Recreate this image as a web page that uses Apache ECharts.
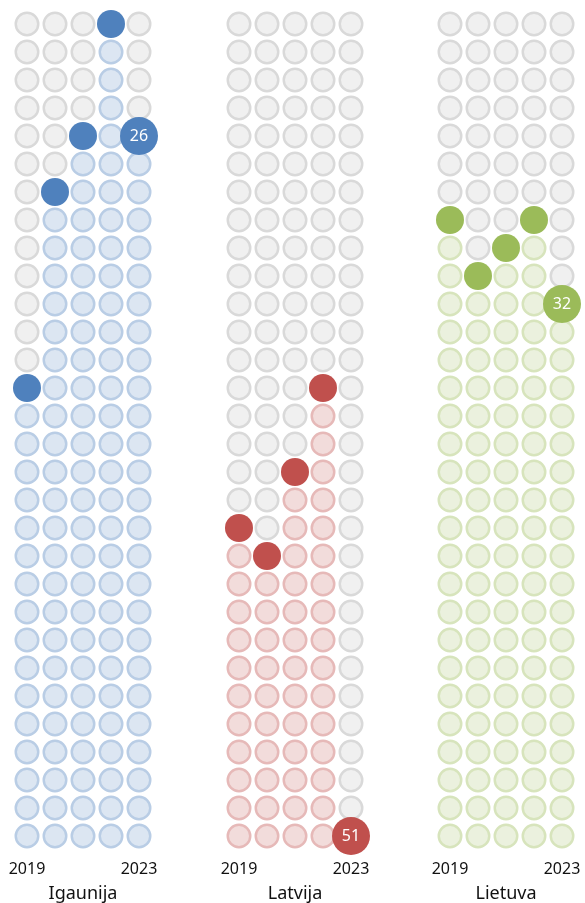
<!DOCTYPE html>
<html>
<head>
<meta charset="utf-8">
<script src="https://cdn.jsdelivr.net/npm/echarts@6/dist/echarts.min.js"></script>
<style>
  html, body { margin: 0; padding: 0; background: #ffffff; }
  #chart { width: 585px; height: 903px; }
</style>
</head>
<body>
<div id="chart"></div>
<script>
const years = ['2019', '2020', '2021', '2022', '2023'];
const countries = ['Igaunija', 'Latvija', 'Lietuva'];
const estoniaRanks = [35, 28, 26, 22, 26];
const latviaRanks = [40, 41, 38, 35, 51];
const lithuaniaRanks = [29, 31, 30, 29, 32];
const rankTop = 22;
const rankBottom = 51;

const allRanks = [estoniaRanks, latviaRanks, lithuaniaRanks];

// tumša krāsa, gaiša pildījuma krāsa, gaiša apmale
const palette = [
  { dark: '#4f81bd', light: '#dce6f2', lightBorder: '#b9cde5' },
  { dark: '#c0504d', light: '#f2dcdb', lightBorder: '#e6b9b8' },
  { dark: '#9bbb59', light: '#ebf1de', lightBorder: '#d7e4bc' },
];
const grey = { fill: '#f0f0f0', border: '#d9d9d9' };

const panelLeft = [27, 239, 450];
const gridTop = 24;
const gridBottom = 67;

const myChart = echarts.init(document.getElementById('chart'));

const grids = [];
const xAxes = [];
const yAxes = [];
const series = [];

countries.forEach((name, p) => {
  const ranks = allRanks[p];
  const col = palette[p];

  grids.push({
    left: panelLeft[p],
    width: 112,
    top: gridTop,
    bottom: gridBottom,
    containLabel: false,
    outerBoundsMode: 'none',
  });

  xAxes.push({
    gridIndex: p,
    type: 'category',
    data: years,
    boundaryGap: false,
    axisLine: { show: false },
    axisTick: { show: false },
    splitLine: { show: false },
    axisLabel: {
      interval: 3,
      margin: 25,
      color: '#111111',
      fontSize: 16,
      fontFamily: 'Noto Sans',
    },
    name: name,
    nameLocation: 'middle',
    nameGap: 49,
    nameTextStyle: { color: '#111111', fontSize: 18, fontFamily: 'Noto Sans' },
  });

  yAxes.push({
    gridIndex: p,
    type: 'value',
    inverse: true,
    min: rankTop,
    max: rankBottom,
    show: false,
  });

  const greyCells = [];
  const lightCells = [];
  const darkCells = [];
  const lastCell = [];
  years.forEach((yr, i) => {
    for (let r = rankTop; r <= rankBottom; r++) {
      if (r < ranks[i]) greyCells.push([yr, r]);
      else if (r > ranks[i]) lightCells.push([yr, r]);
    }
    if (i === years.length - 1) lastCell.push([yr, ranks[i]]);
    else darkCells.push([yr, ranks[i]]);
  });

  series.push({
    type: 'scatter',
    xAxisIndex: p,
    yAxisIndex: p,
    symbolSize: 22.5,
    data: greyCells,
    itemStyle: { color: grey.fill, borderColor: grey.border, borderWidth: 2.5, opacity: 1 },
    emphasis: { disabled: true },
    z: 1,
  });
  series.push({
    type: 'scatter',
    xAxisIndex: p,
    yAxisIndex: p,
    symbolSize: 22.5,
    data: lightCells,
    itemStyle: { color: col.light, borderColor: col.lightBorder, borderWidth: 2.5, opacity: 1 },
    emphasis: { disabled: true },
    z: 2,
  });
  series.push({
    type: 'scatter',
    xAxisIndex: p,
    yAxisIndex: p,
    symbolSize: 28,
    data: darkCells,
    itemStyle: { color: col.dark, opacity: 1 },
    emphasis: { disabled: true },
    z: 3,
  });
  series.push({
    type: 'scatter',
    xAxisIndex: p,
    yAxisIndex: p,
    symbolSize: 38,
    data: lastCell,
    itemStyle: { color: col.dark, opacity: 1 },
    label: {
      show: true,
      position: 'inside',
      formatter: (d) => d.value[1],
      color: '#ffffff',
      fontSize: 16,
      fontFamily: 'Noto Sans',
    },
    emphasis: { disabled: true },
    z: 4,
  });
});

myChart.setOption({
  backgroundColor: '#ffffff',
  animation: false,
  grid: grids,
  xAxis: xAxes,
  yAxis: yAxes,
  series: series,
});
</script>
</body>
</html>
